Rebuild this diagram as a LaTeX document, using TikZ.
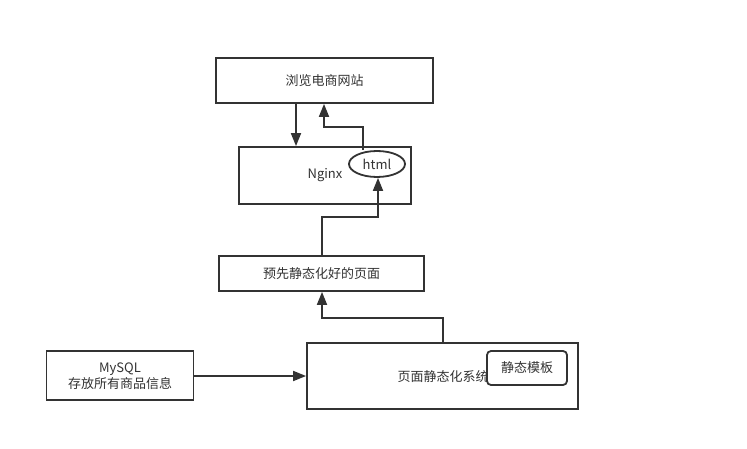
\documentclass[tikz,border=0pt]{standalone}
\usepackage{fontspec}
\setmainfont{Noto Sans CJK SC}
\usetikzlibrary{arrows.meta,shapes.geometric}
\definecolor{ln}{HTML}{333333}
\begin{document}
\begin{tikzpicture}[x=1pt,y=-1pt,
  box/.style={draw=ln,line width=1.8pt,fill=white,inner sep=0pt},
  lbl/.style={font=\fontsize{13}{16}\selectfont,text=black!80},
  conn/.style={draw=ln,line width=1.8pt,-{Triangle[length=13pt,width=10pt]}}]
\useasboundingbox (0,0) rectangle (747,449);
\node[box,minimum width=217pt,minimum height=45pt] (web) at (324.5,80.5) {};
\node[lbl] at (web.center) {浏览电商网站};
\node[box,minimum width=172pt,minimum height=57pt] (nginx) at (325,175.5) {};
\node[lbl] at (325,175.5) {Nginx};
\node[box,ellipse,minimum width=56pt,minimum height=26pt] (html) at (377,164) {};
\node[lbl] at (html.center) {html};
\node[box,minimum width=205pt,minimum height=35pt] (pre) at (321.5,273.5) {};
\node[lbl] at (pre.center) {预先静态化好的页面};
\node[box,minimum width=147pt,minimum height=49pt] (mysql) at (120,375.5) {};
\node[lbl,align=center] at (120,376) {MySQL\\存放所有商品信息};
\node[box,minimum width=271pt,minimum height=66pt] (sys) at (442.5,376) {};
\node[lbl] at (443,377) {页面静态化系统};
\node[box,rounded corners=4pt,minimum width=80pt,minimum height=34pt] (tpl) at (527,368) {};
\node[lbl] at (tpl.center) {静态模板};
\coordinate (a1) at (363,127);
\coordinate (a2) at (324,127);
\coordinate (b1) at (322,217);
\coordinate (b2) at (378,217);
\coordinate (c1) at (443,318);
\coordinate (c2) at (322,318);
\coordinate (m1) at (0,376);
\draw[conn] (web.south -| 296,0) -- (nginx.north -| 296,0);
\draw[conn] (html.north -| a1) -- (a1) -- (a2) -- (web.south -| a2);
\draw[conn] (pre.north -| b1) -- (b1) -- (b2) -- (html.south -| b2);
\draw[conn] (sys.north -| c1) -- (c1) -- (c2) -- (pre.south -| c2);
\draw[conn] (mysql.east |- m1) -- (sys.west |- m1);
\end{tikzpicture}
\end{document}
